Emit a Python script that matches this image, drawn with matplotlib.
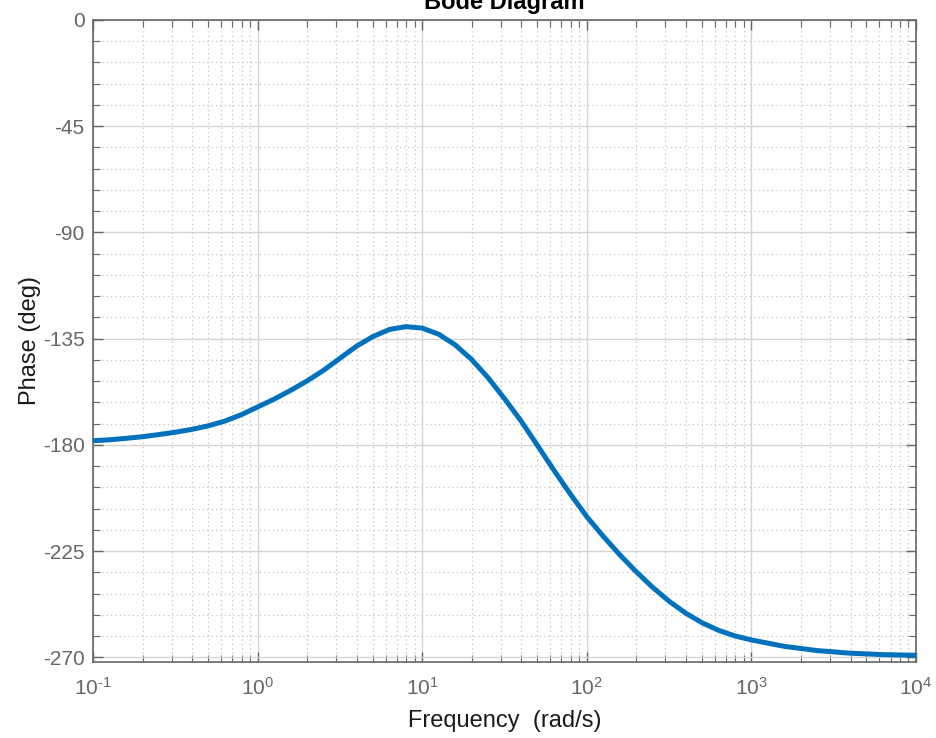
import numpy as np
import matplotlib
matplotlib.use("Agg")
import matplotlib.pyplot as plt
from matplotlib.ticker import FixedLocator, LogLocator, NullFormatter

plt.rcParams['font.family'] = ['Liberation Sans', 'DejaVu Sans']
plt.rcParams['mathtext.fontset'] = 'custom'
plt.rcParams['mathtext.rm'] = 'Liberation Sans'
plt.rcParams['mathtext.it'] = 'Liberation Sans'
plt.rcParams['axes.unicode_minus'] = False

log_freq = [-1.0, -0.9, -0.8, -0.7, -0.6, -0.5, -0.4, -0.3, -0.2, -0.1,
            0.0, 0.1, 0.2, 0.3, 0.4, 0.5, 0.6, 0.7, 0.8, 0.9,
            1.0, 1.1, 1.2, 1.3, 1.4, 1.5, 1.6, 1.7, 1.8, 1.9,
            2.0, 2.1, 2.2, 2.3, 2.4, 2.5, 2.6, 2.7, 2.8, 2.9,
            3.0, 3.2, 3.4, 3.6, 3.8, 4.0]
phase = [-178.2, -177.8, -177.2, -176.5, -175.6, -174.6, -173.4, -171.9, -169.9, -167.2,
         -163.9, -160.6, -156.9, -152.9, -148.4, -143.3, -138.2, -134.1, -131.1, -129.9,
         -130.5, -133.1, -137.6, -143.8, -151.5, -160.4, -169.8, -180.2, -190.7, -200.8,
         -210.4, -218.7, -226.5, -233.7, -240.3, -246.2, -251.2, -255.3, -258.5, -260.9,
         -262.6, -265.3, -267.1, -268.2, -268.8, -269.1]
freq = [10 ** v for v in log_freq]

yticks = [0, -45, -90, -135, -180, -225, -270]
xticks = [1e-1, 1e0, 1e1, 1e2, 1e3, 1e4]
xticklabels = [r'$10^{\text{-1}}$', '$10^{0}$', '$10^{1}$', '$10^{2}$', '$10^{3}$', '$10^{4}$']

gray = '#666666'

fig = plt.figure(figsize=(9.37, 7.38), dpi=100)
ax = fig.add_axes([0.0993, 0.1034, 0.8783, 0.8695])

ax.semilogx(freq, phase, color='#0072BD', lw=3.6, solid_capstyle='butt', zorder=3)

ax.set_xlim(0.1, 1e4)
ax.set_ylim(-271.8, 0)
ax.set_xticks(xticks)
ax.set_xticklabels(xticklabels)
ax.xaxis.set_minor_locator(LogLocator(base=10, subs=np.arange(2, 10)))
ax.xaxis.set_minor_formatter(NullFormatter())
ax.set_yticks(yticks)
ax.yaxis.set_minor_locator(FixedLocator(np.arange(-270, 1, 9)))

ax.grid(which='major', color='#d4d4d4', lw=1.0, ls='-')
ax.grid(which='minor', color='#c4c4c4', lw=0.9, ls=(0, (1, 2.5)))
ax.set_axisbelow(True)

ax.tick_params(which='both', direction='in', top=True, right=True, colors=gray,
               labelsize=15)
ax.tick_params(which='major', length=7, width=1)
ax.tick_params(which='minor', length=5, width=0.8)
ax.tick_params(axis='x', pad=11)
ax.tick_params(axis='y', pad=6)
for s in ax.spines.values():
    s.set_color(gray)
    s.set_linewidth(1.2)

ax.set_xlabel('Frequency  (rad/s)', fontsize=17, color='#1a1a1a', labelpad=8)
ax.set_ylabel('Phase (deg)', fontsize=17, color='#1a1a1a', labelpad=1)
ax.set_title('Bode Diagram', fontsize=17, fontweight='bold', pad=8)

fig.savefig('out.png', dpi=100)
